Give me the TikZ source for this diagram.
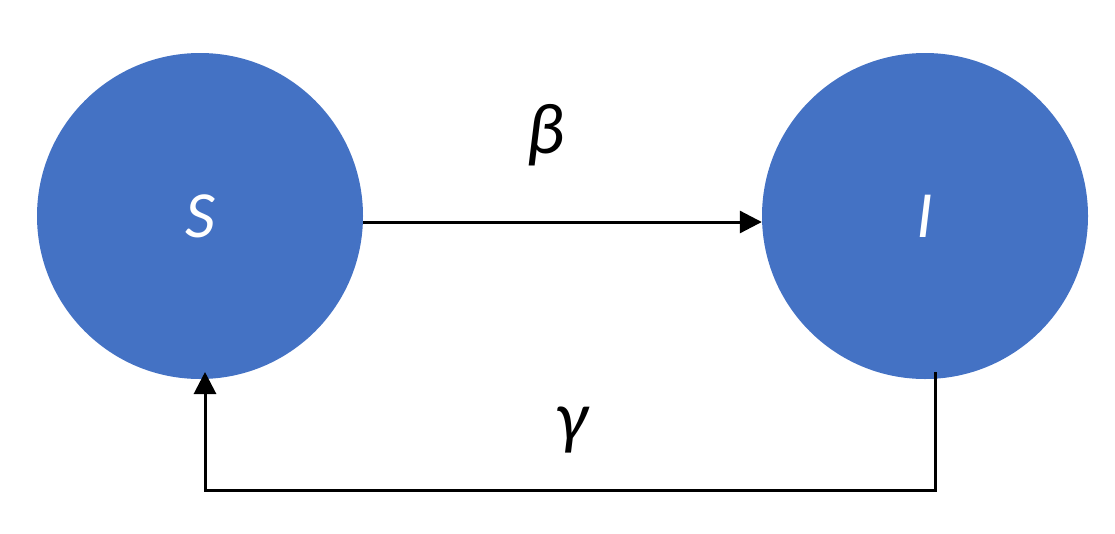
\documentclass[tikz,border=0pt]{standalone}
\usepackage{fontspec}
\setmainfont{Carlito}
\usetikzlibrary{arrows.meta}
\definecolor{nodeblue}{HTML}{4472C4}
\begin{document}
\begin{tikzpicture}[x=1pt,y=-1pt,
  state/.style={circle,fill=nodeblue,minimum size=326pt,inner sep=0pt,text=white,font=\fontsize{66}{70}\selectfont\itshape},
  flow/.style={line width=3pt,-{Triangle[length=22pt,width=22pt]}},
  lbl/.style={font=\fontsize{72}{76}\selectfont\itshape}]
\useasboundingbox (0,0) rectangle (1115,533);
\node[state] (S) at (200,216) {S};
\node[state] (I) at (925,216) {I};
\draw[flow] ([yshift=-6pt]S.east) -- ([yshift=-6pt]I.west);
\node[lbl] (b) at (545,135) {β};
\coordinate (c1) at (935,490);
\coordinate (c2) at (205,490);
\draw[flow] (935,372) -- (c1) -- (c2) -- (205,372);
\node[lbl] (g) at (572,430) {γ};
\end{tikzpicture}
\end{document}
